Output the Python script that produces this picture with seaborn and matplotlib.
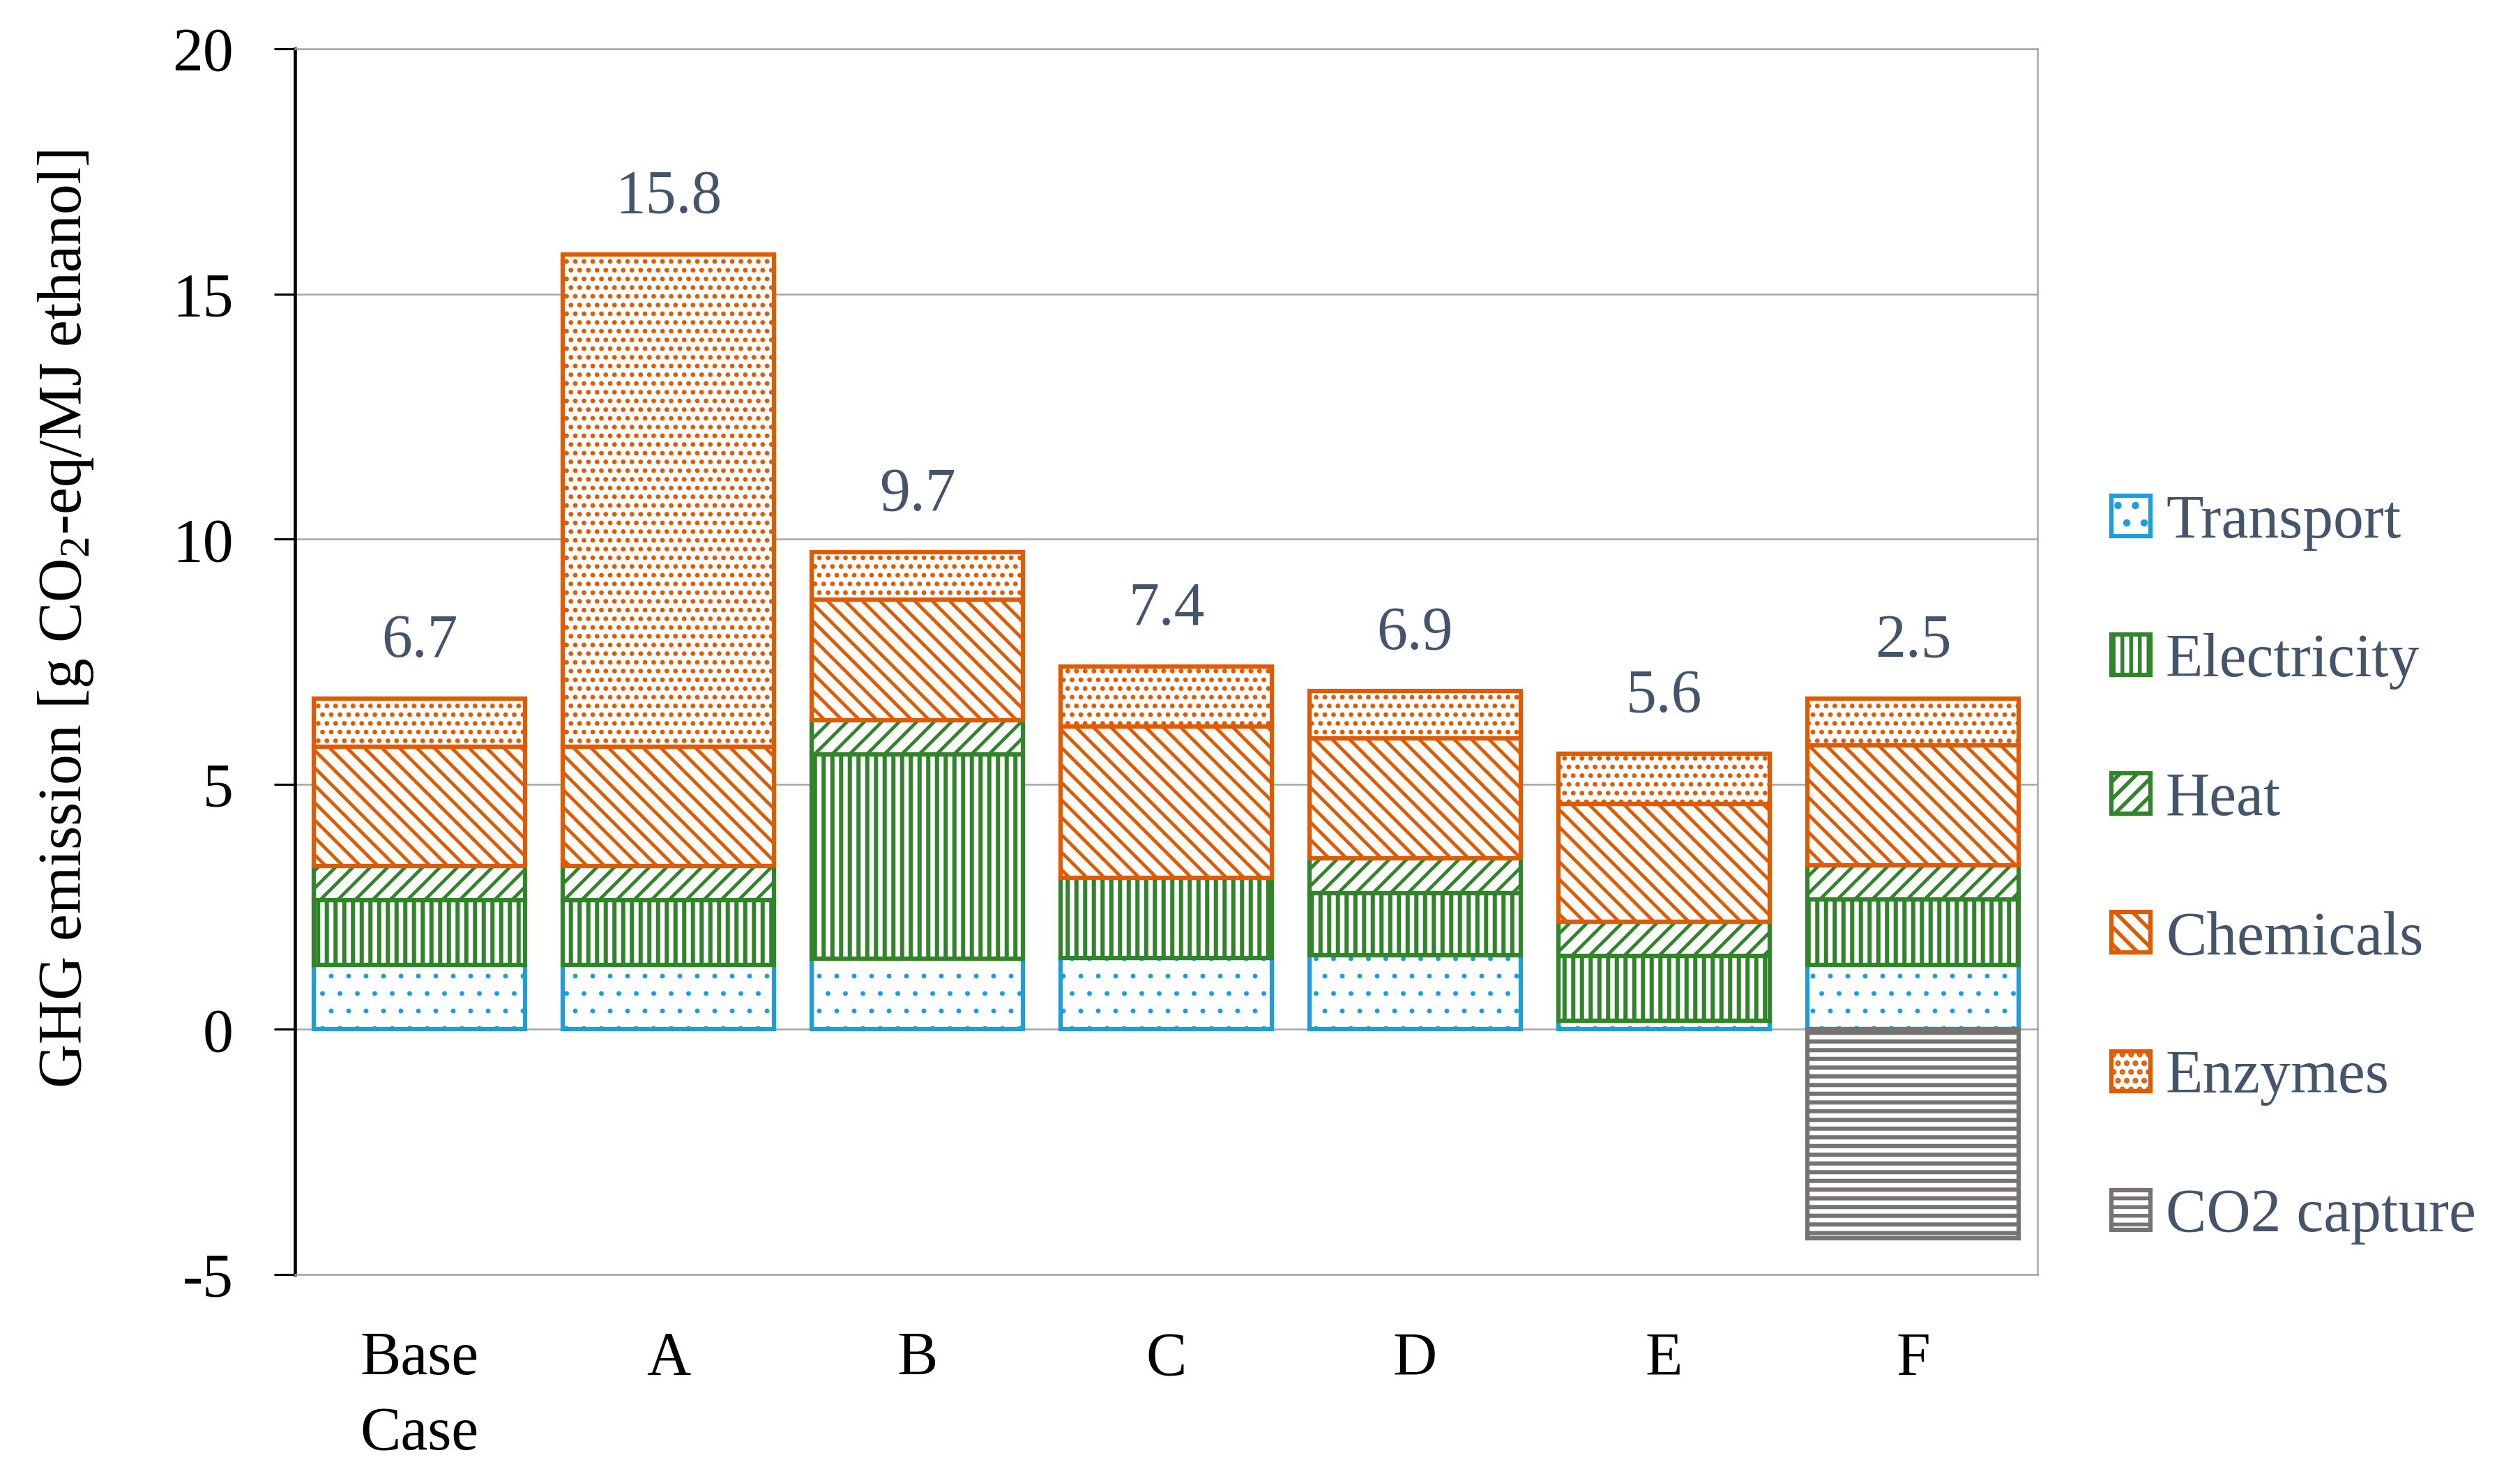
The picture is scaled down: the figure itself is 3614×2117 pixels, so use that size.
import matplotlib
matplotlib.use("Agg")
import matplotlib.pyplot as plt
import matplotlib.patches as mpatches
import seaborn as sns
import numpy as np

# ---------------- data ----------------
categories  = ["Base\nCase", "A", "B", "C", "D", "E", "F"]
transport   = [1.32, 1.32, 1.44, 1.46, 1.51, 0.17, 1.32]
electricity = [1.32, 1.32, 4.17, 1.63, 1.27, 1.33, 1.33]
heat        = [0.70, 0.70, 0.70, 0.00, 0.71, 0.69, 0.70]
chemicals   = [2.42, 2.42, 2.45, 3.09, 2.45, 2.41, 2.44]
enzymes     = [0.98, 10.04, 0.97, 1.22, 0.96, 1.02, 0.95]
co2_capture = [0.00, 0.00, 0.00, 0.00, 0.00, 0.00, -4.26]
series_names = ["Transport", "Electricity", "Heat", "Chemicals", "Enzymes", "CO2 capture"]
y_ticks = [-5, 0, 5, 10, 15, 20]

# ---------------- style ----------------
sns.set_theme(style="white")
plt.rcParams["font.family"] = ["Liberation Serif", "DejaVu Serif"]
plt.rcParams["mathtext.default"] = "regular"
plt.rcParams["axes.unicode_minus"] = False
plt.rcParams["hatch.linewidth"] = 2.6

FS = 42
DPI = 150
W, H = 3614, 2117
label_col = "#44546A"
grid_col = "#A6A6A6"
EDGE_LW = 3.0

styles = {
    "Transport":   dict(color="#1E9DD8", hatch=".",   hlw=0.9),
    "Electricity": dict(color="#31842C", hatch="||",  hlw=2.9),
    "Heat":        dict(color="#31842C", hatch="//",  hlw=2.3),
    "Chemicals":   dict(color="#DF5A00", hatch="\\\\", hlw=2.3),
    "Enzymes":     dict(color="#DF5A00", hatch="..",  hlw=2.0),
    "CO2 capture": dict(color="#787373", hatch="--",  hlw=2.9),
}

fig = plt.figure(figsize=(W / DPI, H / DPI), dpi=DPI)
ax = fig.add_axes([423 / W, 1 - 1828 / H, (2922 - 423) / W, (1828 - 70) / H])

stack = [transport, electricity, heat, chemicals, enzymes]
bottom = np.zeros(len(categories))


def draw_layer(name, vals, base):
    st = styles[name]
    vals = np.asarray(vals, float)
    mask = vals != 0
    xs = [c for c, m in zip(categories, mask) if m]
    n_before = len(ax.patches)
    sns.barplot(x=xs, y=vals[mask], order=categories, bottom=base[mask],
                color=st["color"], saturation=1,
                width=0.85, facecolor="white", edgecolor=st["color"],
                linewidth=EDGE_LW, hatch=st["hatch"], errorbar=None, ax=ax,
                zorder=3)
    for p in ax.patches[n_before:]:
        if hasattr(p, "set_hatch_linewidth"):
            p.set_hatch_linewidth(st["hlw"])


for name, vals in zip(series_names[:5], stack):
    draw_layer(name, vals, bottom)
    bottom = bottom + np.asarray(vals, float)

draw_layer("CO2 capture", co2_capture, np.zeros(len(categories)))

# net totals as labels
net = bottom + np.asarray(co2_capture, float)
for i, (top, tot) in enumerate(zip(bottom, net)):
    ax.annotate(f"{tot:.1f}", xy=(i, top), xytext=(0, 29),
                textcoords="offset points", ha="center", va="baseline",
                fontsize=FS, color=label_col)

# axes
ax.set_xlim(-0.5, len(categories) - 0.5)
ax.set_ylim(-5, 20)
ax.set_yticks(y_ticks)
ax.set_yticklabels([str(t) for t in y_ticks])
ax.set_xticks(range(len(categories)))
ax.set_xticklabels(categories, linespacing=1.42)
ax.tick_params(axis="y", left=True, length=14.4, width=1.5, color="black",
               direction="out", pad=28, labelsize=FS, labelcolor="black")
ax.tick_params(axis="x", bottom=False, length=0, pad=39, labelsize=FS,
               labelcolor="black")
ax.set_xlabel("")
ax.yaxis.grid(True, color=grid_col, linewidth=1.2)
ax.xaxis.grid(False)
ax.set_axisbelow(True)
for s in ["right", "top", "bottom"]:
    ax.spines[s].set_color(grid_col)
    ax.spines[s].set_linewidth(1.2)
    ax.spines[s].set_visible(True)
ax.spines["left"].set_color("black")
ax.spines["left"].set_linewidth(2.2)

ax.set_ylabel("GHG emission [g CO$_2$-eq/MJ ethanol]", fontsize=FS, color="black")
ax.yaxis.set_label_coords(-0.1145, 0.535)

# legend
handles = []
for name in series_names:
    st = styles[name]
    h = mpatches.Patch(facecolor="white", edgecolor=st["color"], hatch=st["hatch"],
                       linewidth=EDGE_LW, label=name)
    if hasattr(h, "set_hatch_linewidth"):
        h.set_hatch_linewidth(st["hlw"])
    handles.append(h)
leg = fig.legend(handles=handles, loc="center left",
                 bbox_to_anchor=(3028 / W, 1 - 1247 / H), frameon=False,
                 handlelength=0.64, handleheight=0.64, handletextpad=0.25,
                 labelspacing=1.35, borderpad=0, borderaxespad=0,
                 prop={"size": FS})
for t in leg.get_texts():
    t.set_color(label_col)

fig.savefig("out.png", dpi=DPI, facecolor="white")
